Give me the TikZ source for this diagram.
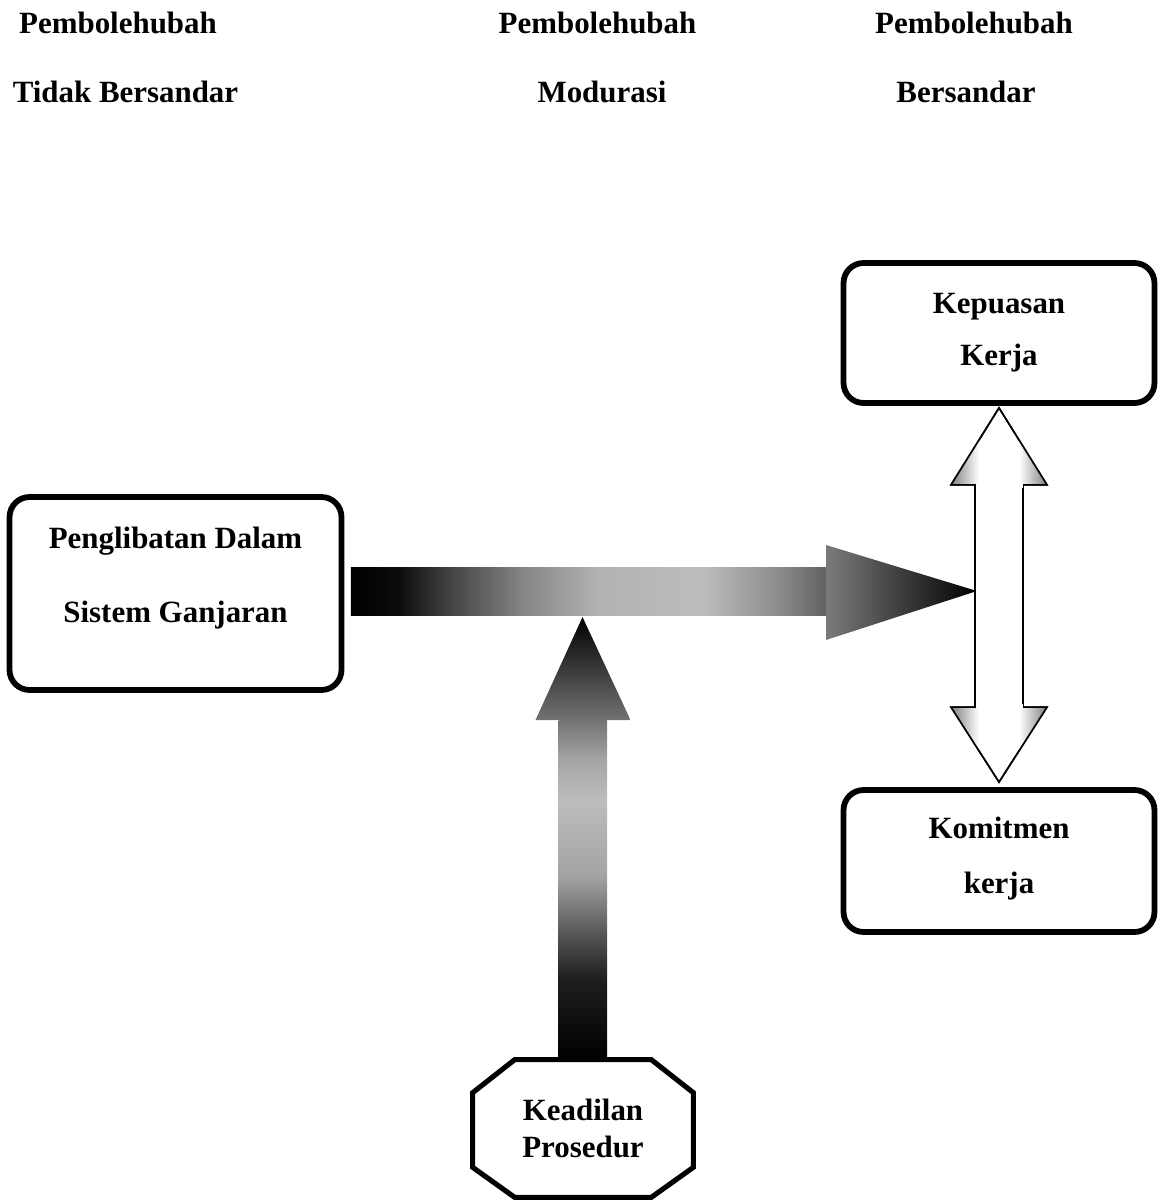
\documentclass[tikz,border=0pt]{standalone}
\usepackage{fontspec}
\setmainfont{Liberation Serif}
\usetikzlibrary{calc,backgrounds}
\pgfdeclarehorizontalshading{hshaft}{100bp}{color(0bp)=(black); color(25bp)=(black); color(30bp)=(black!95); color(36bp)=(black!72); color(43bp)=(black!48); color(51bp)=(black!30); color(62bp)=(black!26); color(70bp)=(black!45); color(75bp)=(black!62); color(100bp)=(black!62)}
\pgfdeclareverticalshading{vshaft}{100bp}{color(0bp)=(black); color(25bp)=(black); color(37bp)=(black!88); color(43bp)=(black!68); color(52bp)=(black!36); color(63bp)=(black!26); color(69bp)=(black!35); color(75bp)=(black!55); color(100bp)=(black!55)}
\begin{document}
\begin{tikzpicture}[x=0.02cm,y=-0.02cm,
  every node/.style={font=\fontsize{17.6}{21}\selectfont\bfseries},
  txt/.style={inner sep=0pt, anchor=base},
  rbox/.style={draw, line width=3.3pt, rounded corners=0.4cm, fill=white, inner sep=0pt},
  octo/.style={draw, line width=2.9pt, fill=white, line join=miter},
  dbl/.style={draw=black, line width=0.9pt, fill=white}]
\useasboundingbox (0,0) rectangle (1164,1200);

% headers
\node[txt] (h1a) at (118,33) {Pembolehubah};
\node[txt] (h1b) at (125.5,102) {Tidak Bersandar};
\node[txt] (h2a) at (597.5,33) {Pembolehubah};
\node[txt] (h2b) at (602,102) {Modurasi};
\node[txt] (h3a) at (974,33) {Pembolehubah};
\node[txt] (h3b) at (966,102) {Bersandar};

% boxes
\node[rbox, minimum width=6.64cm, minimum height=3.86cm] (pen) at (175.5,593.5) {};
\node[txt] (pen1) at (175.5,548) {Penglibatan Dalam};
\node[txt] (pen2) at (175.5,622) {Sistem Ganjaran};

\node[rbox, minimum width=6.22cm, minimum height=2.8cm] (kep) at (999,333) {};
\node[txt] (kep1) at (999,313) {Kepuasan};
\node[txt] (kep2) at (999,365) {Kerja};

\node[rbox, minimum width=6.22cm, minimum height=2.84cm] (kom) at (999,861) {};
\node[txt] (kom1) at (999,838) {Komitmen};
\node[txt] (kom2) at (999,893) {kerja};

% octagon
\node[inner sep=0pt, minimum width=4.4cm, minimum height=2.74cm] (kp) at (583,1128.5) {};
\draw[octo] ($(kp.north west)+(42,0)$) -- ($(kp.north east)+(-42,0)$) -- ($(kp.north east)+(0,33)$)
  -- ($(kp.south east)+(0,-30)$) -- ($(kp.south east)+(-42,0)$) -- ($(kp.south west)+(42,0)$)
  -- ($(kp.south west)+(0,-30)$) -- ($(kp.north west)+(0,33)$) -- cycle;
\node[txt] (kp1) at (583,1120) {Keadilan};
\node[txt] (kp2) at (583,1157) {Prosedur};

% connector coordinates
\coordinate (hstart) at ($(pen.east)+(6.5,-2.5)$);
\coordinate (htip) at (977,591);
\coordinate (vtip) at (582.5,617);
\coordinate (vbase) at (kp.north);
\coordinate (dtop) at ($(kep.south)+(0,2)$);
\coordinate (dbot) at ($(kom.north)+(0,-5)$);

\begin{scope}[on background layer]
  % horizontal arrow
  \shade[shading=hshaft] ($(hstart)+(0,-24)$) rectangle ($(htip)+(-151,24)$);
  \shade[left color=black!52, right color=black] ($(htip)+(-151,-46)$) -- (htip) -- ($(htip)+(-151,49)$) -- cycle;
  % vertical arrow
  \shade[shading=vshaft] ($(vbase)+(-24.5,0)$) rectangle ($(vtip)+(24.5,103)$);
  \shade[top color=black, bottom color=black!55] (vtip) -- ($(vtip)+(48,103)$) -- ($(vtip)+(-47,103)$) -- cycle;
\end{scope}

% double arrow
\draw[dbl] (dtop) -- ++(48,77) -- ++(-24,0) -- ($(dbot)+(24,-75)$) -- ++(24,0) -- (dbot)
  -- ++(-48,-75) -- ++(24,0) -- ($(dtop)+(-24,77)$) -- ++(-24,0) -- cycle;
\begin{scope}
  \clip (dtop) -- ++(48,77) -- ++(-96,0) -- cycle;
  \shade[left color=black!50, right color=white] ($(dtop)+(-48,20)$) rectangle ($(dtop)+(-20,77)$);
  \shade[left color=white, right color=black!50] ($(dtop)+(20,20)$) rectangle ($(dtop)+(48,77)$);
\end{scope}
\begin{scope}
  \clip (dbot) -- ++(48,-75) -- ++(-96,0) -- cycle;
  \shade[left color=black!50, right color=white] ($(dbot)+(-48,-20)$) rectangle ($(dbot)+(-20,-75)$);
  \shade[left color=white, right color=black!50] ($(dbot)+(20,-20)$) rectangle ($(dbot)+(48,-75)$);
\end{scope}
\draw[line width=0.9pt] (dtop) -- ++(48,77) -- ++(-96,0) -- cycle;
\draw[line width=0.9pt] (dbot) -- ++(48,-75) -- ++(-96,0) -- cycle;
\fill[white] ($(dtop)+(-23.5,76.6)$) rectangle ($(dtop)+(23.5,80)$);
\fill[white] ($(dbot)+(-23.5,-74.6)$) rectangle ($(dbot)+(23.5,-78)$);
\end{tikzpicture}
\end{document}
